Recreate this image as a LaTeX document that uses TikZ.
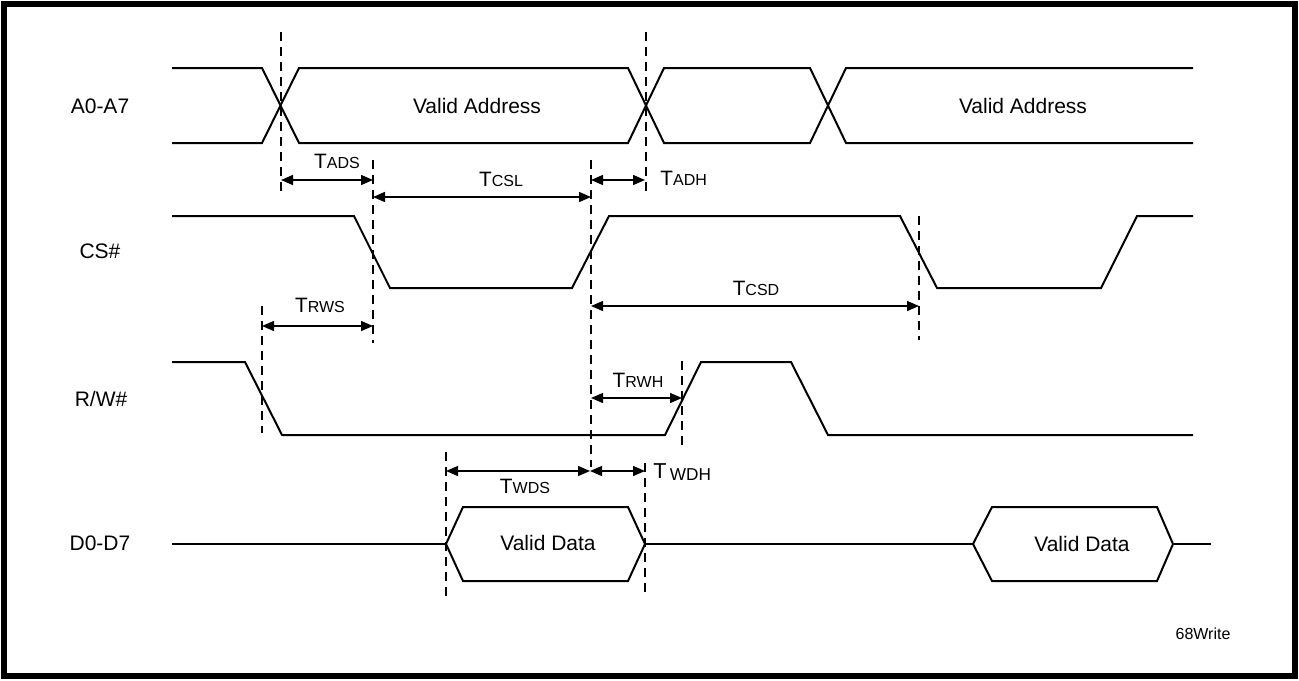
\documentclass[tikz,border=0pt]{standalone}
\usepackage{fontspec}
\setmainfont{Liberation Sans}
\usetikzlibrary{arrows.meta}
\newcommand{\tname}[1]{{\fontsize{10.4}{12}\selectfont T}{\fontsize{8}{10}\selectfont #1}}

\begin{document}
\begin{tikzpicture}[x=0.5pt, y=-0.5pt,
  sig/.style={line width=1pt, line join=miter},
  guide/.style={line width=0.75pt, dash pattern=on 4.5pt off 3pt},
  tarrow/.style={line width=0.7pt, {Triangle[length=6pt,width=5pt]}-{Triangle[length=6pt,width=5pt]}},
  lbl/.style={font=\fontsize{10.5}{12}\selectfont, inner sep=0pt}]
\useasboundingbox (0,0) rectangle (1299,680);
\draw[line width=3pt] (4,4) rectangle (1295,676);
% signal names %
\node[lbl] (a) at (100,106) {A0-A7};
\node[lbl] (cs) at (100,251) {CS\#};
\node[lbl] (rw) at (101,399) {R/W\#};
\node[lbl] (d) at (100,543) {D0-D7};
% signals %
\draw[sig] (172,68) -- (262,68) -- (299,143) -- (628,143) -- (664,68) -- (810,68) -- (846,143) -- (1193,143);
\draw[sig] (172,143) -- (262,143) -- (299,68) -- (628,68) -- (664,143) -- (810,143) -- (846,68) -- (1193,68);
\node[lbl] (addr1) at (477,106) {Valid Address};
\node[lbl] (addr2) at (1023,106) {Valid Address};
\draw[sig] (172,216) -- (354,216) -- (390,288) -- (572,288) -- (609,216) -- (900,216) -- (937,288) -- (1101,288) -- (1137,216) -- (1193,216);
\draw[sig] (172,362) -- (245,362) -- (282,435) -- (665,435) -- (701,362) -- (791,362) -- (828,435) -- (1193,435);
\draw[sig] (172,544) -- (446,544);
\draw[sig] (446,544) -- (463,507) -- (628,507) -- (645,544) -- (628,581) -- (463,581) -- cycle;
\draw[sig] (645,544) -- (973,544);
\draw[sig] (973,544) -- (992,507) -- (1157,507) -- (1173,544) -- (1157,581) -- (992,581) -- cycle;
\draw[sig] (1173,544) -- (1211,544);
\node[lbl] (data1) at (548,543) {Valid Data};
\node[lbl] (data2) at (1082,544) {Valid Data};
% guides %
\draw[guide] (281,32) -- (281,197);
\draw[guide] (646,32) -- (646,197);
\draw[guide] (373,160) -- (373,343);
\draw[guide] (591,160) -- (591,467);
\draw[guide] (919,216) -- (919,340);
\draw[guide] (262,306) -- (262,433);
\draw[guide] (682,361) -- (682,450);
\draw[guide] (446,452) -- (446,598);
\draw[guide] (645,463) -- (645,598);
% timing points %
\coordinate (ads1) at (281,180); \coordinate (ads2) at (373,180);
\coordinate (csl1) at (373,197); \coordinate (csl2) at (591,197);
\coordinate (adh1) at (591,180); \coordinate (adh2) at (645,180);
\coordinate (csd1) at (591,306); \coordinate (csd2) at (919,306);
\coordinate (rws1) at (262,326); \coordinate (rws2) at (373,326);
\coordinate (rwh1) at (591,398); \coordinate (rwh2) at (682,398);
\coordinate (wds1) at (446,471); \coordinate (wds2) at (590,471);
\coordinate (wdh1) at (590,471); \coordinate (wdh2) at (645,471);
% timings %
\draw[tarrow] (ads1) -- (ads2);
\draw[tarrow] (csl1) -- (csl2);
\draw[tarrow] (adh1) -- (adh2);
\draw[tarrow] (csd1) -- (csd2);
\draw[tarrow] (rws1) -- (rws2);
\draw[tarrow] (rwh1) -- (rwh2);
\draw[tarrow] (wds1) -- (wds2);
\draw[tarrow] (wdh1) -- (wdh2);
\node[inner sep=0pt] (tads) at (337,161) {\tname{ADS}};
\node[inner sep=0pt] (tcsl) at (501,179) {\tname{CSL}};
\node[inner sep=0pt, anchor=west] (tadh) at (660,178) {\tname{ADH}};
\node[inner sep=0pt] (tcsd) at (756,288) {\tname{CSD}};
\node[inner sep=0pt] (trws) at (320,305) {\tname{RWS}};
\node[inner sep=0pt] (trwh) at (638,380) {\tname{RWH}};
\node[inner sep=0pt] (twds) at (525,486) {\tname{WDS}};
\node[inner sep=0pt, anchor=west] (twdh) at (653,472) {{\fontsize{10.8}{12}\selectfont T}\,{\fontsize{8.6}{10}\selectfont\raisebox{-1pt}{WDH}}};
\node[inner sep=0pt, font=\fontsize{8}{10}\selectfont] (fig) at (1203,634) {68Write};
\end{tikzpicture}
\end{document}
